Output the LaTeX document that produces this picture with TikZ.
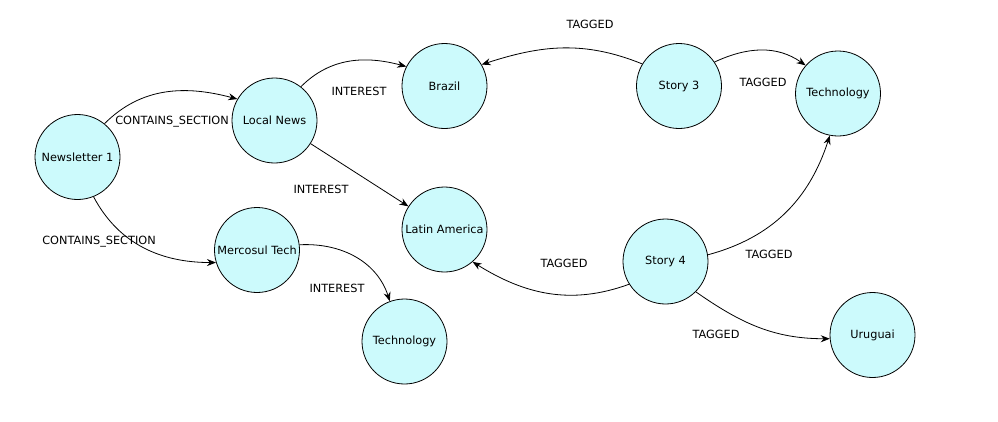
\documentclass[tikz,border=0pt]{standalone}
\usepackage{fontspec}
\setmainfont{DejaVu Sans}
\usetikzlibrary{arrows.meta}
\definecolor{nodefill}{RGB}{204,250,252}
\tikzset{
  gnode/.style={circle, draw=black, line width=0.8pt, fill=nodefill, minimum size=85pt, inner sep=0pt, font=\fontsize{11.3}{12}\selectfont},
  rel/.style={draw=black, line width=0.8pt, -{Stealth[length=9pt,width=7pt]}},
  lbl/.style={font=\fontsize{11.3}{12}\selectfont, inner sep=0pt}
}
\begin{document}
\begin{tikzpicture}[x=1pt,y=-1pt]
\useasboundingbox (0,0) rectangle (998,421);
\node[gnode] (nl) at (77.5,157) {Newsletter 1};
\node[gnode] (ln) at (274.5,120.5) {Local News};
\node[gnode] (mt) at (257,250) {Mercosul Tech};
\node[gnode] (br) at (444.5,86) {Brazil};
\node[gnode] (la) at (444.5,229.5) {Latin America};
\node[gnode] (tb) at (404.5,341.5) {Technology};
\node[gnode] (s3) at (679,86) {Story 3};
\node[gnode] (tt) at (838,93.5) {Technology};
\node[gnode] (s4) at (665.5,261.5) {Story 4};
\node[gnode] (ur) at (872.5,335) {Uruguai};

\draw[rel] (nl.51) to[out=45,in=165] (ln.150);
\draw[rel] (nl.-68) to[out=-62,in=180] (mt.197);
\draw[rel] (ln.52) to[out=45,in=165] (br.153);
\draw[rel] (ln) -- (la);
\draw[rel] (mt.7) to[out=3,in=108] (tb.110);
\draw[rel] (s3.149) to[out=158,in=18] (br.30);
\draw[rel] (s3.34) to[out=25,in=145] (tt.139);
\draw[rel] (s4.9) to[out=15,in=-108] (tt.-101);
\draw[rel] (s4.212) to[out=200,in=-32] (la.-49);
\draw[rel] (s4.-45) to[out=-35,in=180] (ur.185);

\node[lbl] (l1) at (172,122) {CONTAINS\_SECTION};
\node[lbl] (l2) at (99,242) {CONTAINS\_SECTION};
\node[lbl] (l3) at (359,91) {INTEREST};
\node[lbl] (l4) at (321,189) {INTEREST};
\node[lbl] (l5) at (337,288) {INTEREST};
\node[lbl] (l6) at (590,24) {TAGGED};
\node[lbl] (l7) at (763,82) {TAGGED};
\node[lbl] (l8) at (769,254) {TAGGED};
\node[lbl] (l9) at (564,263) {TAGGED};
\node[lbl] (l10) at (716,334) {TAGGED};
\end{tikzpicture}
\end{document}
